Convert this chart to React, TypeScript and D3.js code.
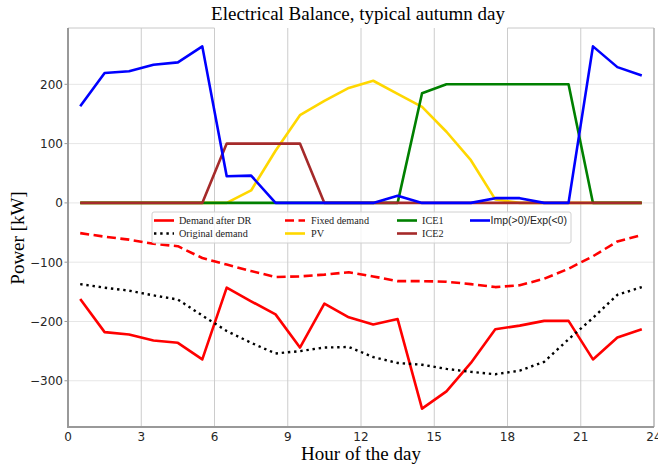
import React from "react";
import * as d3 from "d3";

const hours = [0.5, 1.5, 2.5, 3.5, 4.5, 5.5, 6.5, 7.5, 8.5, 9.5, 10.5, 11.5, 12.5, 13.5, 14.5, 15.5, 16.5, 17.5, 18.5, 19.5, 20.5, 21.5, 22.5, 23.5];

const demandAfterDR = [-162, -218, -222, -232, -236, -264, -143, -166, -188, -244, -170, -193, -205, -196, -347, -318, -270, -213, -207, -199, -199, -264, -227, -213];
const originalDemand = [-137, -143, -148, -156, -163, -190, -216, -236, -254, -250, -244, -243, -260, -270, -273, -280, -285, -289, -283, -268, -230, -194, -155, -142];
const fixedDemand = [-51, -57, -62, -69, -73, -93, -104, -115, -125, -124, -121, -117, -124, -132, -132, -133, -137, -142, -139, -128, -111, -90, -65, -54];
const pv = [0, 0, 0, 0, 0, 0, 0, 21, 88, 148, 172, 194, 206, 184, 162, 120, 72, 6, 0, 0, 0, 0, 0, 0];
const ice1 = [0, 0, 0, 0, 0, 0, 0, 0, 0, 0, 0, 0, 0, 0, 185, 200, 200, 200, 200, 200, 200, 0, 0, 0];
const ice2 = [0, 0, 0, 0, 0, 0, 100, 100, 100, 100, 0, 0, 0, 0, 0, 0, 0, 0, 0, 0, 0, 0, 0, 0];
const impExp = [163, 219, 222, 233, 237, 264, 45, 46, 0, 0, 0, 0, 0, 12, 0, 0, 0, 8, 8, 0, 0, 264, 229, 215];

const xTicks = [0, 3, 6, 9, 12, 15, 18, 21, 24];
const yTicks = [-300, -200, -100, 0, 100, 200];

const seriesNames = ["Demand after DR", "Original demand", "Fixed demand", "PV", "ICE1", "ICE2", "Imp(>0)/Exp(<0)"];
const seriesData = [demandAfterDR, originalDemand, fixedDemand, pv, ice1, ice2, impExp];
const seriesColors = ["#ff0000", "#000000", "#ff0000", "#ffd700", "#008000", "#a52a2a", "#0000ff"];
const seriesDash = [null, "2.4 3.8", "9 4.5", null, null, null, null];

const W = 658;
const H = 468;
const L = 68, R = 654, T = 28, B = 427;

export default function App() {
  const x = d3.scaleLinear().domain([0, 24]).range([L, R]);
  const y = d3.scaleLinear().domain([-378, 295]).range([B, T]);
  const line = d3.line<[number, number]>().x((d) => x(d[0])).y((d) => y(d[1]));

  const legCols = [
    { hx: 154, tx: 179 },
    { hx: 285, tx: 311 },
    { hx: 397, tx: 422 },
    { hx: 470, tx: 490.5 },
  ];
  const legRows = [220.5, 233.5];

  return (
    <svg width={W} height={H} style={{ position: "absolute", left: 0, top: 0, background: "#fff" }}>
      <rect x={0} y={0} width={W} height={H} fill="#fff" />
      {yTicks.map((t) => (
        <line key={"hy" + t} x1={L} x2={R} y1={y(t)} y2={y(t)} stroke="#e6e6e6" strokeWidth={1} />
      ))}
      {xTicks.map((t) => (
        <line key={"vx" + t} x1={x(t)} x2={x(t)} y1={T} y2={B} stroke="#cccccc" strokeWidth={1} />
      ))}
      <line x1={L} x2={x(6)} y1={T} y2={T} stroke="#c8c8c8" strokeWidth={1} />
      <line x1={x(18)} x2={R} y1={T} y2={T} stroke="#c8c8c8" strokeWidth={1} />
      <line x1={R} x2={R} y1={T} y2={B} stroke="#b0b0b0" strokeWidth={1.2} />
      <line x1={L} x2={L} y1={T} y2={B + 1} stroke="#999" strokeWidth={2} />
      <line x1={L - 1} x2={R} y1={B} y2={B} stroke="#999" strokeWidth={2} />

      {seriesData.map((vals, i) => (
        <path
          key={"s" + i}
          d={line(hours.map((h, j) => [h, vals[j]] as [number, number])) || ""}
          fill="none"
          stroke={seriesColors[i]}
          strokeWidth={i === 1 ? 2.4 : 2.6}
          strokeDasharray={seriesDash[i] || undefined}
          strokeLinecap="butt"
          strokeLinejoin="round"
        />
      ))}

      {yTicks.map((t) => (
        <g key={"yt" + t}>
          <line x1={L - 3.5} x2={L} y1={y(t)} y2={y(t)} stroke="#999" strokeWidth={1} />
          <text x={L - 5} y={y(t)} dy="0.36em" textAnchor="end" fontFamily="DejaVu Sans" fontSize={12} fill="#262626">
            {t < 0 ? "\u2212" + Math.abs(t) : String(t)}
          </text>
        </g>
      ))}
      {xTicks.map((t) => (
        <text key={"xt" + t} x={x(t)} y={441} textAnchor="middle" fontFamily="DejaVu Sans" fontSize={12} fill="#262626">
          {t}
        </text>
      ))}

      <rect x={152} y={212} width={419} height={31} rx={2} fill="#fff" fillOpacity={0.8} stroke="#d0d0d0" strokeWidth={1} />
      {seriesNames.map((name, i) => {
        const col = Math.floor(i / 2);
        const row = i % 2;
        const c = legCols[col];
        const ry = legRows[row];
        const sans = i === 6;
        return (
          <g key={"lg" + i}>
            <line
              x1={c.hx}
              x2={c.hx + 20}
              y1={ry}
              y2={ry}
              stroke={seriesColors[i]}
              strokeWidth={i === 1 ? 2.4 : 2.6}
              strokeDasharray={seriesDash[i] || undefined}
              strokeLinecap="butt"
            />
            <text
              x={c.tx}
              y={ry}
              dy="0.35em"
              fontFamily={sans ? "Liberation Sans" : "Liberation Serif"}
              fontSize={sans ? 10.5 : 10.2}
              fill="#222"
            >
              {name}
            </text>
          </g>
        );
      })}

      <text x={358} y={19.5} textAnchor="middle" fontFamily="Liberation Serif" fontSize={19} fill="#000">
        Electrical Balance, typical autumn day
      </text>
      <text x={361} y={460} textAnchor="middle" fontFamily="Liberation Serif" fontSize={19} fill="#000">
        Hour of the day
      </text>
      <text transform="translate(24,238) rotate(-90)" textAnchor="middle" fontFamily="Liberation Serif" fontSize={19} fill="#000">
        Power [kW]
      </text>
    </svg>
  );
}
